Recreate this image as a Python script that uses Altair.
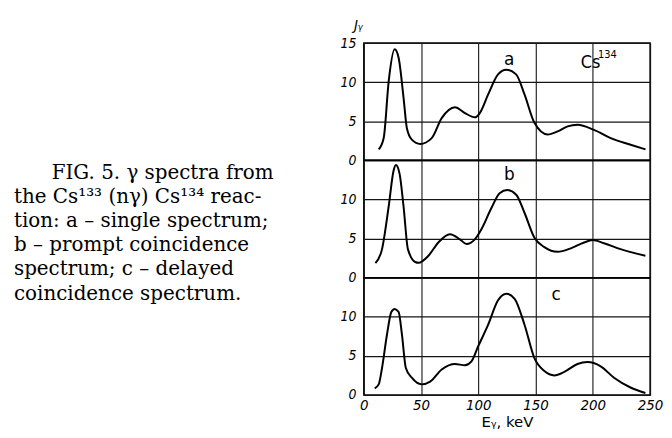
import altair as alt
import pandas as pd

# ---- data ----
x_a = [13, 17.4, 21.7, 26.9, 30.4, 34.7, 37.6, 41.9, 49.2, 59.3, 68, 79.6, 88.3, 97, 101.3,
       108.5, 117.2, 124.4, 133, 140.4, 149, 160.6, 169.3, 178, 186.6, 201, 215.6, 233, 246]
y_a = [1.4, 2.9, 10.1, 14.2, 13.1, 8.0, 4.1, 2.65, 2.1, 2.85, 5.4, 6.8, 6.05, 5.5, 6.05,
       8.4, 11.0, 11.6, 11.0, 8.4, 4.8, 3.3, 3.7, 4.35, 4.55, 3.9, 2.85, 2.0, 1.4]

x_b = [10.1, 15.9, 21.7, 26, 28, 31.2, 34.7, 38.5, 44.9, 47.7, 56.4, 65.1, 75.2, 83.9, 89.7,
       96.9, 102.7, 111.4, 118.6, 125.3, 133.1, 140.3, 149, 157.7, 169.3, 180.8, 192.4, 199.6,
       209.8, 224.2, 245.9]
y_b = [1.85, 3.65, 9.1, 13.7, 14.4, 13.3, 9.1, 3.65, 2.0, 1.9, 2.8, 4.5, 5.55, 4.9, 4.3,
       4.9, 6.2, 8.9, 10.8, 11.2, 10.6, 8.3, 5.1, 3.9, 3.3, 3.75, 4.5, 4.8,
       4.4, 3.65, 2.8]

x_c = [9.5, 13, 15.9, 20.2, 24, 26.9, 30.4, 33.3, 36.7, 41.9, 50.6, 57.9, 68, 79.6, 88.3, 94,
       99.8, 108.5, 117.2, 124.4, 131.7, 140.4, 149, 157.7, 166.4, 175.1, 186.6, 195.3, 206.9,
       218.5, 232.9, 245.9]
y_c = [0.85, 1.35, 3.45, 7.7, 10.6, 11.0, 10.6, 7.7, 3.45, 2.2, 1.35, 1.7, 3.25, 3.95, 3.8, 4.3,
       6.2, 8.95, 12.1, 12.95, 12.3, 8.95, 4.7, 3.05, 2.5, 2.95, 3.95, 4.2, 3.65,
       2.2, 0.95, 0.25]

panel_letters = ["a", "b", "c"]
letter_x = [127, 127, 168]
letter_y = [12.8, 13.1, 12.8]

isotope_text = ["Cs", "134"]
isotope_x = [198]
isotope_y = [12.4]

x_ticks = [0, 50, 100, 150, 200, 250]
y_ticks_top = [0, 5, 10, 15]
y_ticks = [0, 5, 10]

caption_lines = [
    "FIG. 5. \u03b3 spectra from",
    "the Cs\u00b9\u00b3\u00b3 (n\u03b3) Cs\u00b9\u00b3\u2074 reac-",
    "tion:  a \u2013 single spectrum;",
    "b \u2013 prompt coincidence",
    "spectrum; c \u2013 delayed",
    "coincidence spectrum.",
]

W, H = 288, 118
LABEL_FONT = "DejaVu Sans Condensed"
GRID = dict(grid=True, gridColor="#151515", gridOpacity=1, gridWidth=1.1,
            ticks=False, domain=False, labelFont=LABEL_FONT, labelFontStyle="italic",
            labelColor="black")

xscale = alt.Scale(domain=[0, 250], nice=False, zero=False)
yscale = alt.Scale(domain=[0, 15], nice=False)


def panel(xs, ys, idx, yvals, bottom, top):
    df = pd.DataFrame({"E": xs, "J": ys})
    xargs = dict(GRID, values=x_ticks, labels=bottom, labelFontSize=15, labelPadding=3,
                 labelFlush=False)
    if bottom:
        xargs.update(title="E\u1d67, keV", titleFontSize=15, titleFont="DejaVu Sans",
                     titleFontWeight="normal", titlePadding=2, titleColor="black")
    else:
        xargs.update(title=None)
    yargs = dict(GRID, values=yvals, labelFontSize=14, labelPadding=8)
    if top:
        yargs.update(title="J\u1d67", titleAngle=0, titleX=-6, titleY=-19,
                     titleAlign="center", titleBaseline="middle", titleFontSize=15,
                     titleFont=LABEL_FONT, titleFontStyle="italic", titleFontWeight="normal",
                     titleColor="black")
    else:
        yargs.update(title=None)
    X = lambda: alt.X("E:Q", scale=xscale, axis=alt.Axis(**xargs))
    Y = lambda: alt.Y("J:Q", scale=yscale, axis=alt.Axis(**yargs))
    line = alt.Chart(df).mark_line(interpolate="monotone", color="black", strokeWidth=2).encode(
        x=X(), y=Y())
    ldf = pd.DataFrame({"E": [letter_x[idx]], "J": [letter_y[idx]], "t": [panel_letters[idx]]})
    lab = alt.Chart(ldf).mark_text(font="DejaVu Sans", fontSize=17, color="black").encode(
        x=X(), y=Y(), text="t:N")
    layers = [line, lab]
    if top:
        cdf = pd.DataFrame({"E": isotope_x, "J": isotope_y, "t": [isotope_text[0]],
                            "s": [isotope_text[1]]})
        cs = alt.Chart(cdf).mark_text(font=LABEL_FONT, fontSize=18, color="black").encode(
            x=X(), y=Y(), text="t:N")
        sup = alt.Chart(cdf).mark_text(font=LABEL_FONT, fontSize=11, color="black",
                                       dx=17, dy=-8).encode(
            x=X(), y=Y(), text="s:N")
        layers += [cs, sup]
    return layers


layers_a = panel(x_a, y_a, 0, y_ticks_top, False, True)
layers_b = panel(x_b, y_b, 1, y_ticks, False, False)
layers_c = panel(x_c, y_c, 2, y_ticks, True, False)

cap_df = pd.DataFrame({"i": list(range(len(caption_lines))), "t": caption_lines})
cap_y = alt.Y("i:O", axis=None,
              scale=alt.Scale(type="point", domain=list(range(len(caption_lines))),
                              range=[13, 134], padding=0))
cap_style = dict(font="DejaVu Serif", fontSize=20, color="black", align="left", baseline="middle")
cap_first = alt.Chart(cap_df).transform_filter("datum.i == 0").mark_text(**cap_style).encode(
    x=alt.value(-314), y=cap_y, text="t:N")
cap_rest = alt.Chart(cap_df).transform_filter("datum.i > 0").mark_text(**cap_style).encode(
    x=alt.value(-352), y=cap_y, text="t:N")

pa = alt.layer(*layers_a).properties(width=W, height=H)
pb = alt.layer(alt.layer(*layers_b), alt.layer(cap_first, cap_rest)).resolve_scale(
    y="independent").properties(width=W, height=H)
pc = alt.layer(*layers_c).properties(width=W, height=H)

chart = alt.vconcat(pa, pb, pc, spacing=0, bounds="flush").properties(
    padding={"left": 5, "top": 7, "right": 0, "bottom": 0}, background="white"
).configure_view(stroke="black", strokeWidth=1.5)

chart.save("out.html", embed_options={"renderer": "svg", "actions": False})
